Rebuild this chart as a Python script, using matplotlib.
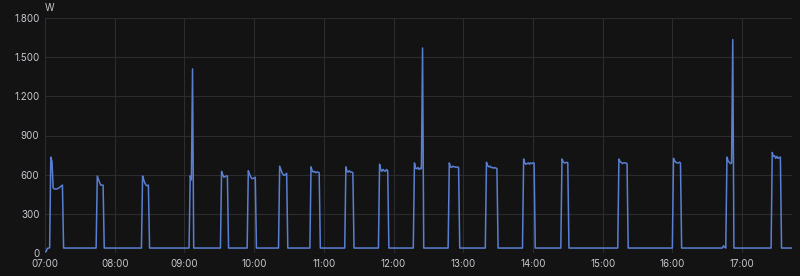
import matplotlib
matplotlib.use("Agg")
import matplotlib.pyplot as plt
import matplotlib.dates as mdates
import matplotlib.ticker as mticker
import pandas as pd

# Minutes after 07:00 and power readings (W)
minutes = [
    0, 1, 2, 4, 5, 6, 7, 8, 10, 12, 14, 15, 16,
    44, 45, 46, 47, 48, 49, 50, 51,
    83, 84, 85, 86, 87, 88, 89, 90,
    124, 125, 126, 127, 128,
    151, 152, 153, 154, 155, 156, 157, 158,
    174, 175, 176, 177, 178, 179, 180, 181, 182,
    201, 202, 203, 204, 205, 206, 207, 208, 209,
    228, 229, 230, 231, 232, 233, 234, 235, 236, 237,
    258, 259, 260, 261, 262, 263, 264, 265, 266,
    287, 288, 289, 290, 291, 292, 293, 294, 295, 296,
    317, 318, 319, 320, 321, 322, 323, 324, 325, 326,
    347, 348, 349, 350, 351, 352, 353, 354, 355, 356, 357,
    379, 380, 381, 382, 383, 384, 385, 386, 387, 388, 389, 390,
    411, 412, 413, 414, 415, 416, 417, 418, 419, 420, 421, 422,
    444, 445, 446, 447, 448, 449, 450, 451,
    493, 494, 495, 496, 497, 498, 499, 500, 501, 502,
    540, 541, 542, 543, 544, 545, 546, 547, 548,
    583, 584, 585, 586, 587, 588, 589, 590, 591, 592, 593,
    625, 626, 627, 628, 629, 630, 631, 632, 633, 634,
    643,
]
power_w = [
    8, 12, 35, 40, 735, 700, 500, 490, 490, 498, 512, 520, 38,
    38, 590, 565, 540, 520, 520, 520, 38,
    38, 590, 560, 535, 520, 515, 520, 38,
    38, 590, 560, 1410, 38,
    38, 625, 600, 580, 585, 590, 590, 38,
    38, 630, 605, 585, 570, 570, 575, 580, 38,
    38, 665, 640, 615, 600, 595, 600, 610, 38,
    38, 660, 630, 620, 625, 615, 620, 620, 615, 38,
    38, 660, 625, 620, 630, 620, 620, 615, 38,
    38, 680, 640, 625, 640, 630, 625, 640, 630, 38,
    38, 690, 650, 645, 655, 640, 650, 645, 1570, 38,
    38, 690, 660, 655, 665, 660, 660, 655, 660, 655, 38,
    38, 695, 670, 660, 665, 655, 655, 650, 655, 650, 648, 38,
    38, 720, 690, 680, 685, 690, 680, 690, 685, 690, 690, 38,
    38, 720, 700, 690, 690, 695, 690, 38,
    38, 720, 700, 695, 685, 690, 690, 690, 685, 38,
    38, 725, 705, 695, 690, 690, 695, 690, 38,
    38, 55, 45, 38, 735, 705, 695, 685, 690, 1635, 38,
    38, 770, 740, 745, 725, 740, 725, 730, 735, 38,
    38,
]
y_ticks = [0, 300, 600, 900, 1200, 1500, 1800]
start_time = "2024-01-01 07:00"
end_minute = 643

t0 = pd.Timestamp(start_time)
times = [t0 + pd.Timedelta(minutes=m) for m in minutes]

bg = "#131314"
fig = plt.figure(figsize=(8.0, 2.76), dpi=100, facecolor=bg)
ax = fig.add_axes([45 / 800, 1 - 253 / 276, (792 - 45) / 800, (253 - 18) / 276])
ax.set_facecolor(bg)

ax.plot(times, power_w, color="#5a7fd2", linewidth=1.1, solid_joinstyle="round")

ax.set_ylim(0, 1800)
ax.set_xlim(t0, t0 + pd.Timedelta(minutes=end_minute))
ax.set_yticks(y_ticks)
ax.yaxis.set_major_formatter(mticker.FuncFormatter(lambda v, p: f"{int(v):,}".replace(",", ".")))
ax.xaxis.set_major_locator(mdates.HourLocator())
ax.xaxis.set_major_formatter(mdates.DateFormatter("%H:%M"))

for s in ax.spines.values():
    s.set_visible(False)
ax.grid(True, color="#2c2c2f", linewidth=0.8)
ax.set_axisbelow(True)
ax.tick_params(length=0, colors="#c8c8cf", labelsize=7, pad=4)
for lab in ax.get_xticklabels() + ax.get_yticklabels():
    lab.set_family(["Inter", "DejaVu Sans"])

fig.text(45 / 800, 1 - 8 / 276, "W", color="#c8c8cf", fontsize=7,
         family=["Inter", "DejaVu Sans"], va="center", ha="left")

fig.savefig("out.png", dpi=100, facecolor=bg)
